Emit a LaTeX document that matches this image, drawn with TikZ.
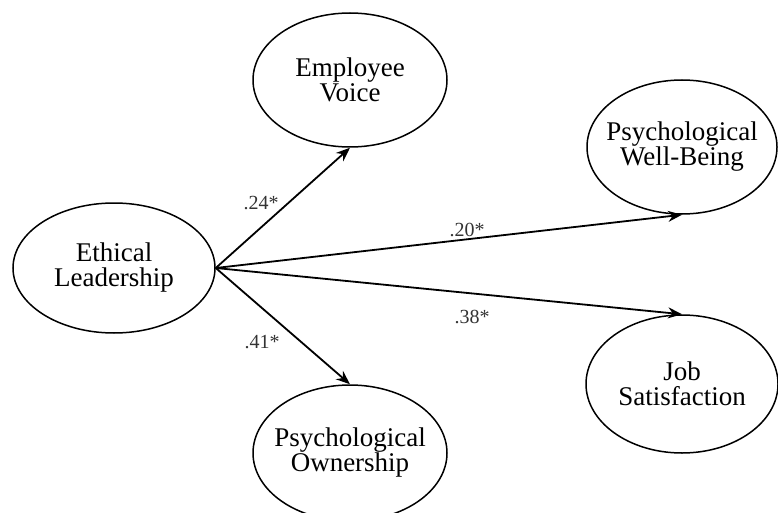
\documentclass[tikz,border=0pt]{standalone}
\usepackage{fontspec}
\setmainfont{Liberation Serif}
\usetikzlibrary{arrows.meta, shapes.geometric}

\begin{document}
\begin{tikzpicture}[x=1pt, y=-1pt,
    construct/.style={draw, ellipse, line width=1.5pt, inner xsep=-25pt, inner ysep=0pt,
        minimum width=194pt, minimum height=134pt, align=center,
        font=\fontsize{27}{25}\selectfont},
    path/.style={line width=1.8pt, -{Stealth[length=14pt, width=11pt]}},
    coef/.style={font=\fontsize{20}{20}\selectfont, text=black!80, inner sep=0pt}]
    \useasboundingbox (0,0) rectangle (778,513);
    % Predictor
    \node[construct, minimum width=202pt, minimum height=130pt] (EL) at (114,268) {Ethical\\Leadership};
    % Upper Left
    \node[construct] (EV) at (350,80) {Employee\\Voice};
    % Lower Left
    \node[construct, minimum height=136pt] (PO) at (350,453) {Psychological\\Ownership};
    % Upper Right
    \node[construct, minimum width=190pt] (PWB) at (682,147) {Psychological\\Well-Being};
    % Lower Right
    \node[construct, minimum width=192pt, minimum height=138pt] (JS) at (682,384) {Job\\Satisfaction};

    % Paths
    \draw[path] (EL.east) -- (EV.south);
    \draw[path] (EL.east) -- (PWB.south);
    \draw[path] (EL.east) -- (JS.north);
    \draw[path] (EL.east) -- (PO.north);

    % Coefficients
    \node[coef] (c24) at (261,203) {.24*};
    \node[coef] (c20) at (467,230) {.20*};
    \node[coef] (c38) at (472,317) {.38*};
    \node[coef] (c41) at (262,342) {.41*};
\end{tikzpicture}
\end{document}
